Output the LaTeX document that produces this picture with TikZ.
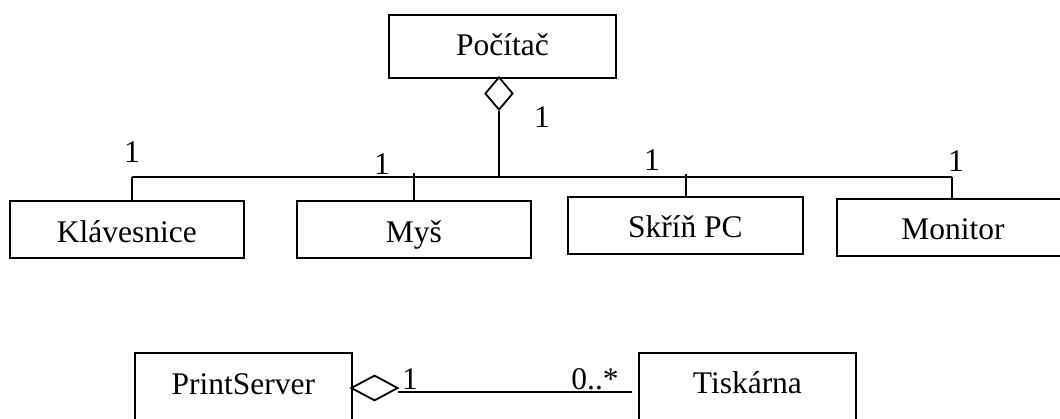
\documentclass[tikz,border=0pt]{standalone}
\usepackage{fontspec}
\setmainfont{Liberation Serif}
\usetikzlibrary{shapes.geometric}
\begin{document}
\begin{tikzpicture}[x=1pt,y=-1pt,
  line width=1.8pt,
  every node/.style={font=\fontsize{31.5}{36}\selectfont, inner sep=0pt},
  % class box: width, height above baseline, depth below baseline
  classbox/.style n args={3}{draw, anchor=north west, inner xsep=0pt,
    minimum width=#1, text height=#2, text depth=#3},
  aggr/.style={draw, diamond, fill=white, inner sep=0pt},
  mult/.style={anchor=center}]
  \useasboundingbox (0,0) rectangle (1060,419);
  \clip (0,0) rectangle (1060,419);

  % composition of a computer
  \node[classbox={227pt}{41pt}{22pt}] (pc) at (388,14) {Počítač};
  \node[classbox={234pt}{42pt}{15pt}] (klav) at (9,200) {Klávesnice};
  \node[classbox={234pt}{42pt}{15pt}] (mys) at (296,200) {Myš};
  \node[classbox={235pt}{41pt}{16.5pt}] (skrin) at (567,196) {Skříň PC};
  \node[classbox={232pt}{41pt}{16pt}] (mon) at (836,198) {Monitor};

  \node[aggr, minimum width=28pt, minimum height=33pt] (agg) at (499,93.5) {};
  \coordinate (hub) at (499,177);
  \coordinate (busL) at (132,177);
  \coordinate (busR) at (952,177);
  \coordinate (tM) at (414,173);
  \coordinate (tS) at (686,174);

  \draw (agg.south) -- (hub);
  \draw (busL) -- (busR);
  \draw (busL) -- (busL |- klav.north);
  \draw (tM) -- (tM |- mys.north);
  \draw (tS) -- (tS |- skrin.north);
  \draw (busR) -- (busR |- mon.north);

  \node[mult] (m0) at (542,117) {1};
  \node[mult] (m1) at (132,152) {1};
  \node[mult] (m2) at (382,164) {1};
  \node[mult] (m3) at (652,160) {1};
  \node[mult] (m4) at (956,161) {1};

  % print server and its printers
  \node[classbox={217pt}{42pt}{40pt}] (ps) at (134,352) {PrintServer};
  \node[classbox={217pt}{41pt}{40pt}] (tisk) at (638,352) {Tiskárna};
  \node[aggr, minimum width=47pt, minimum height=25.5pt] (agg2) at (374.5,388) {};
  \coordinate (la) at (398,392);
  \coordinate (lb) at (632,392);
  \draw (la) -- (lb);
  \node[mult] (m5) at (410,379) {1};
  \node[mult] (m6) at (595,379) {0..*};
\end{tikzpicture}
\end{document}
